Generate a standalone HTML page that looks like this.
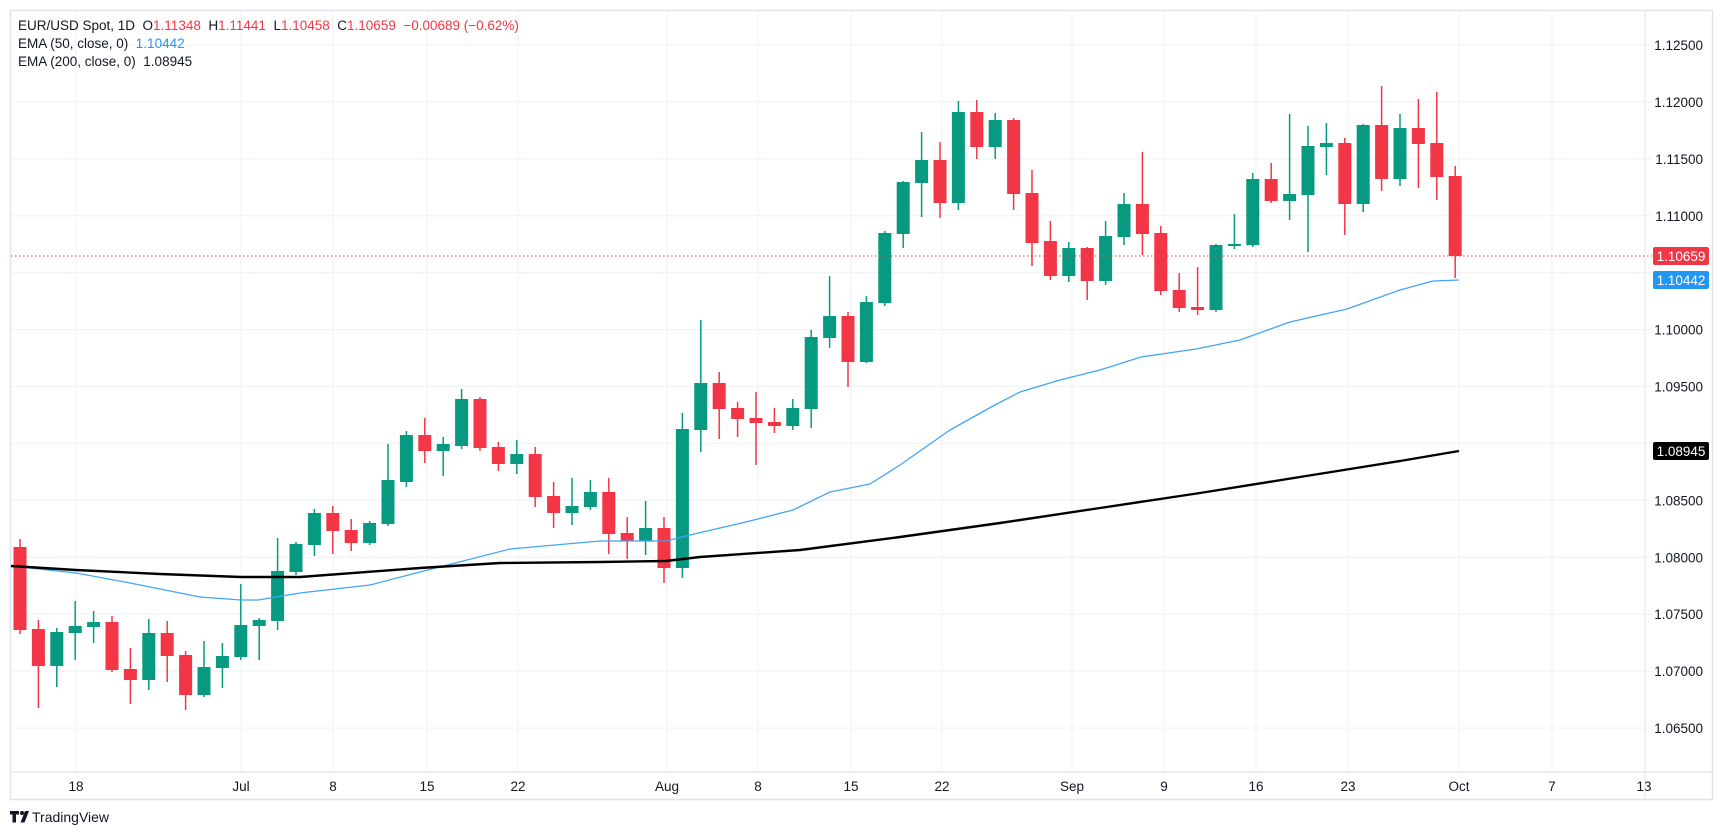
<!DOCTYPE html>
<html><head><meta charset="utf-8">
<style>
html,body{margin:0;padding:0;background:#fff;}
body{width:1723px;height:835px;overflow:hidden;font-family:"Liberation Sans",sans-serif;}
svg text{font-family:"Liberation Sans",sans-serif;}
</style></head>
<body>
<svg id="c" width="1723" height="835" xmlns="http://www.w3.org/2000/svg"></svg>
<script>
const svg=document.getElementById('c');
let s='';
// frame
s+='<rect x="10.5" y="10.5" width="1702" height="789" fill="#fff" stroke="#e0e3eb" stroke-width="1.5"/>';
// horizontal grid
const prices=['1.12500','1.12000','1.11500','1.11000','1.10500','1.10000','1.09500','1.09000','1.08500','1.08000','1.07500','1.07000','1.06500'];
for(let k=0;k<13;k++){const y=45+k*56.92;
 s+=`<line x1="11" x2="1652" y1="${y}" y2="${y}" stroke="#f0f3fa" stroke-width="1.2"/>`;
 if(k!=4 && k!=7) s+=`<text x="1703" y="${y+5}" font-size="13.5" fill="#131722" text-anchor="end">${prices[k]}</text>`;
}
// vertical grid + date labels
const dl=[[76,'18'],[241,'Jul'],[333,'8'],[427,'15'],[518,'22'],[667,'Aug'],[758,'8'],[851,'15'],[942,'22'],[1072,'Sep'],[1164,'9'],[1256,'16'],[1348,'23'],[1459,'Oct'],[1552,'7'],[1644,'13']];
for(const [x,t] of dl){
 if(x<1644) s+=`<line x1="${x}" x2="${x}" y1="11" y2="772" stroke="#f0f3fa" stroke-width="1.2"/>`;
 s+=`<text x="${x}" y="791" font-size="13.5" fill="#131722" text-anchor="middle">${t}</text>`;
}
s+='<line x1="1645" x2="1645" y1="11" y2="799" stroke="#e0e3eb" stroke-width="1"/>';
s+='<line x1="11" x2="1712" y1="772" y2="772" stroke="#e0e3eb" stroke-width="1.2"/>';
// candles [open,high,low,close] in pixel y
const C=[
[547,539,634,630],[629,620,708,666],[666,628,687,632],[633,601,660,626],[627,611,643,622],[622,616,672,670],[669,648,704,680],[680,619,690,633],[633,621,682,656],[655,651,710,695],[695,641,697,667],[668,643,688,656],[657,584,660,625],[626,618,660,620],[621,538,630,571],[572,542,575,544],[545,509,556,513],[513,506,554,531],[530,519,551,543],[543,521,545,523],[524,444,526,480],[482,431,487,435],[435,418,463,451],[451,437,476,444],[446,389,449,399],[399,397,451,448],[447,442,471,464],[464,440,474,454],[454,447,507,497],[496,482,528,513],[513,478,525,506],[507,480,510,492],[492,478,554,534],[533,517,559,541],[541,501,555,528],[528,517,583,568],[568,413,578,429],[430,320,452,383],[383,372,439,409],[408,402,437,419],[418,392,465,423],[422,408,433,426],[426,399,430,408],[409,330,428,337],[338,276,348,316],[316,312,387,362],[362,296,363,302],[303,231,306,233],[234,181,248,182],[183,132,217,160],[160,142,218,203],[203,101,210,112],[112,100,159,147],[147,113,159,120],[120,118,210,194],[193,170,266,243],[241,221,280,276],[276,242,282,248],[248,247,300,281],[281,221,285,236],[237,193,245,204],[204,152,255,234],[233,226,295,291],[290,273,312,308],[307,267,315,310],[310,244,312,245],[246,214,249,244],[245,173,247,179],[179,163,203,201],[201,114,220,194],[195,126,252,146],[147,123,175,143],[143,138,235,204],[204,124,212,125],[125,86,191,179],[179,114,186,128],[128,99,188,144],[143,92,200,177],[176,166,278,256]];
const G='#089981',R='#f23645';
C.forEach((c,i)=>{const x=20+i*18.4;const [o,h,l,cl]=c;const up=cl<o;const col=up?G:R;
 const top=Math.min(o,cl),bot=Math.max(o,cl);
 s+=`<line x1="${x}" x2="${x}" y1="${h}" y2="${l}" stroke="${col}" stroke-width="1.5"/>`;
 s+=`<rect x="${x-6.5}" y="${top}" width="13" height="${Math.max(bot-top,1.5)}" fill="${col}"/>`;
});
// EMAs
const b=[[11,566],[76,573],[130,583],[200,597],[241,600],[258,600],[300,593],[370,585],[420,572],[510,549],[600,541],[666,541],[690,535],[750,521],[793,510],[830,492],[870,484],[900,465],[950,430],[993,406],[1020,392],[1060,380],[1100,370],[1141,357],[1196,349],[1240,340],[1290,322],[1347,309],[1400,290],[1433,281],[1459,280]];
const k=[[11,566],[76,570],[160,574],[241,577],[300,577],[420,568],[500,563],[600,562],[666,561],[700,557],[800,550],[900,537],[1000,523],[1100,508],[1200,493],[1300,477],[1400,461],[1459,451]];
const pts=a=>a.map(p=>p.join(',')).join(' ');
s+=`<polyline points="${pts(b)}" fill="none" stroke="#42a5f5" stroke-width="1.3" stroke-linejoin="round"/>`;
s+=`<polyline points="${pts(k)}" fill="none" stroke="#000" stroke-width="2.4" stroke-linejoin="round"/>`;
// last price line
s+='<line x1="11" x2="1652" y1="256" y2="256" stroke="#f23645" stroke-width="1" stroke-dasharray="1.5,2.5"/>';
// badges
s+='<rect x="1653" y="247" width="56" height="18" rx="2" fill="#f23645"/><text x="1681" y="261" font-size="13.5" fill="#fff" text-anchor="middle">1.10659</text>';
s+='<rect x="1653" y="271" width="56" height="18" rx="2" fill="#2196f3"/><text x="1681" y="285" font-size="13.5" fill="#fff" text-anchor="middle">1.10442</text>';
s+='<rect x="1653" y="442" width="56" height="18" rx="2" fill="#000"/><text x="1681" y="456" font-size="13.5" fill="#fff" text-anchor="middle">1.08945</text>';
// header
s+='<text x="18" y="30" font-size="13.5" fill="#131722" xml:space="preserve">EUR/USD Spot, 1D  O<tspan fill="#f23645">1.11348</tspan>  H<tspan fill="#f23645">1.11441</tspan>  L<tspan fill="#f23645">1.10458</tspan>  C<tspan fill="#f23645">1.10659  −0.00689 (−0.62%)</tspan></text>';
s+='<text x="18" y="48" font-size="13.5" fill="#131722" xml:space="preserve">EMA (50, close, 0)  <tspan fill="#2196f3">1.10442</tspan></text>';
s+='<text x="18" y="66" font-size="13.5" fill="#131722" xml:space="preserve">EMA (200, close, 0)  1.08945</text>';
// logo
s+='<path d="M10 811h9v3.5h-3v8h-3.5v-8h-2.5z" fill="#131722"/><circle cx="22" cy="813" r="2" fill="#131722"/><path d="M25 811h4l-4.5 11.5h-4z" fill="#131722"/>';
s+='<text x="32" y="822" font-size="14" fill="#131722">TradingView</text>';
svg.innerHTML=s;
</script>
</body></html>
